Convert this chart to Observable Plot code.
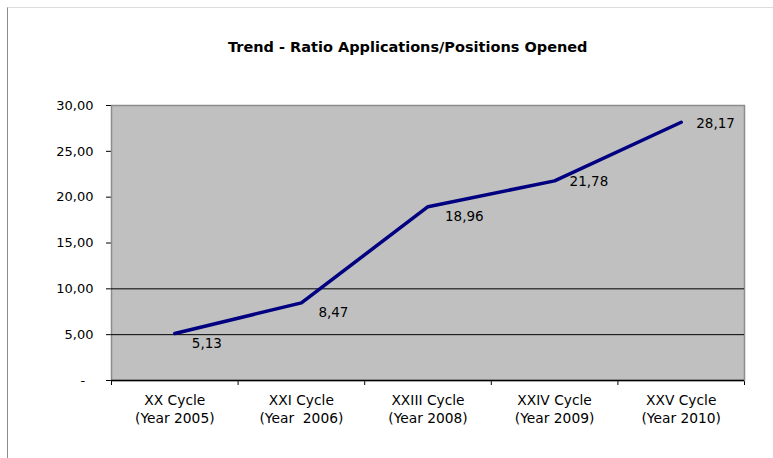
<!DOCTYPE html>
<html>
<head>
<meta charset="utf-8">
<script src="https://cdn.jsdelivr.net/npm/d3@7"></script>
<script src="https://cdn.jsdelivr.net/npm/@observablehq/plot@0.6"></script>
<style>
  html, body { margin: 0; padding: 0; background: #fff; }
  #wrap { position: relative; width: 773px; height: 458px; overflow: hidden; }
  #chart { position: absolute; left: 0; top: 0; }
  #border { position: absolute; left: 7px; top: 7px; width: 900px; height: 600px;
            border-left: 1px solid #8c8c8c; border-top: 1px solid #dcdcdc; pointer-events: none; }
  svg text { white-space: pre; }
</style>
</head>
<body>
<div id="wrap"><div id="chart"></div><div id="border"></div></div>
<script>
const title = "Trend - Ratio Applications/Positions Opened";
const categories = ["XX Cycle", "XXI Cycle", "XXIII Cycle", "XXIV Cycle", "XXV Cycle"];
const years = ["(Year 2005)", "(Year  2006)", "(Year 2008)", "(Year 2009)", "(Year 2010)"];
const values = [5.13, 8.47, 18.96, 21.78, 28.17];
const yTicks = [0, 5, 10, 15, 20, 25, 30];

const comma = v => d3.format(".2f")(v).replace(".", ",");
const idx = d3.range(values.length);
const lowIdx = idx.filter(i => i < 3);
const highIdx = idx.filter(i => i >= 3);
const xc = i => i + 0.5;

const plot = Plot.plot({
  width: 773,
  height: 458,
  marginLeft: 111,
  marginRight: 29,
  marginTop: 105,
  marginBottom: 78,
  style: { fontFamily: "'DejaVu Sans', sans-serif", fontSize: "13px", color: "#000", background: "transparent", overflow: "visible" },
  x: { domain: [0, 5], ticks: 5, tickFormat: () => "", tickSize: 5, label: null },
  y: { domain: [0, 30], ticks: yTicks, tickFormat: d => d === 0 ? "-  " : comma(d), tickSize: 5, tickPadding: 13, label: null },
  marks: [
    Plot.frame({ fill: "#c0c0c0", stroke: "#8c8c8c", strokeWidth: 1.5 }),
    Plot.ruleY([5, 10], { stroke: "#000", strokeWidth: 1 }),
    Plot.ruleY([0], { stroke: "#000", strokeWidth: 1.5 }),
    Plot.line(idx, { x: xc, y: i => values[i], stroke: "#000080", strokeWidth: 3.5, strokeLinejoin: "round", strokeLinecap: "round" }),
    Plot.text(lowIdx, { x: xc, y: i => values[i], text: i => comma(values[i]), textAnchor: "start", dx: 17, dy: 10, fontSize: 13.5, fill: "#000" }),
    Plot.text(highIdx, { x: xc, y: i => values[i], text: i => comma(values[i]), textAnchor: "start", dx: 15, dy: 1, fontSize: 13.5, fill: "#000" }),
    Plot.text(categories, { x: (d, i) => xc(i), y: [0, 0, 0, 0, 0], text: d => d, dy: 20, fontSize: 13.8, fill: "#000" }),
    Plot.text(years, { x: (d, i) => xc(i), y: [0, 0, 0, 0, 0], text: d => d, dy: 38, fontSize: 13.8, fill: "#000" }),
    Plot.text([title], { x: [2.34], y: [30], text: d => d, dy: -58, fontSize: 14.5, fontWeight: "bold", fill: "#000" })
  ]
});
document.getElementById("chart").appendChild(plot);
</script>
</body>
</html>
